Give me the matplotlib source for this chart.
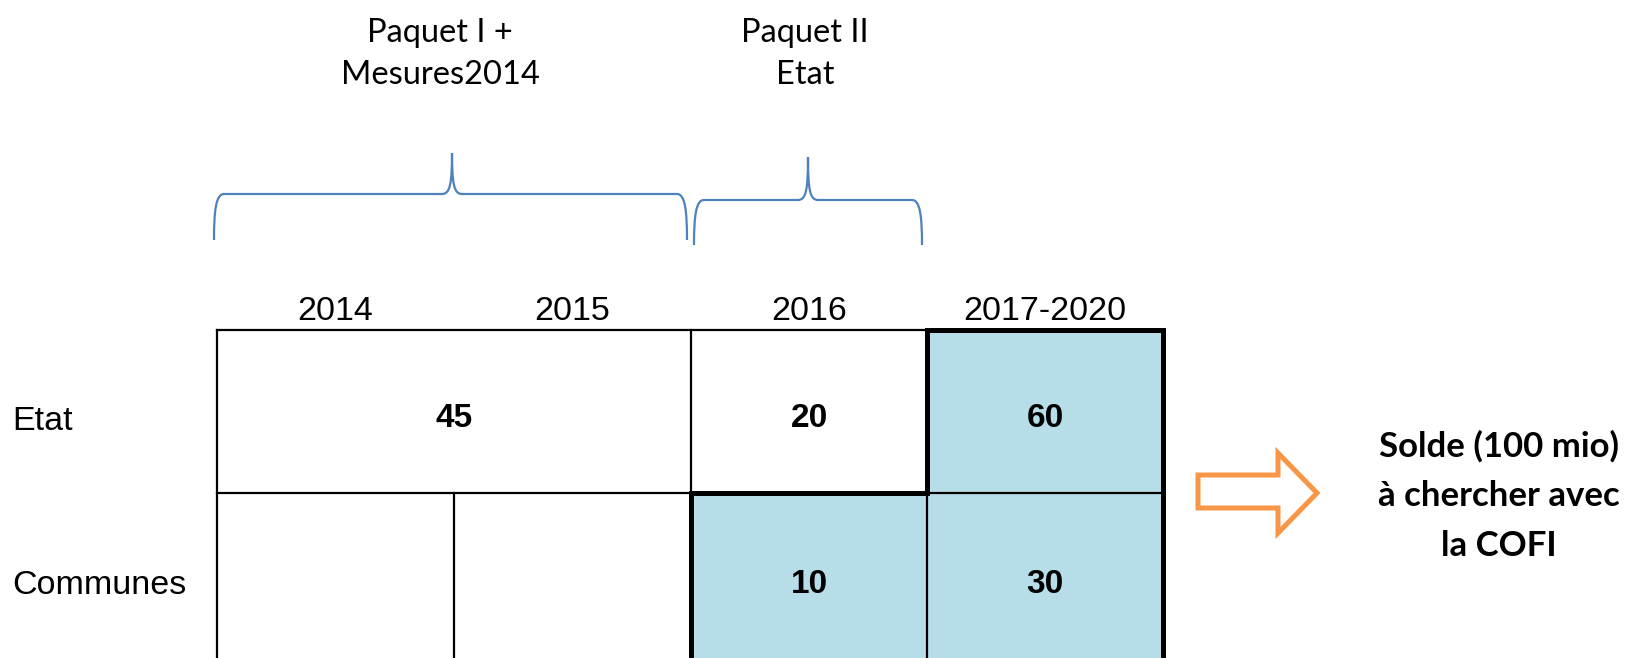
import matplotlib.pyplot as plt
from matplotlib.patches import Rectangle, Polygon, PathPatch
from matplotlib.path import Path

# data
rows = ['Etat', 'Communes']
years = ['2014', '2015', '2016', '2017-2020']
etat_vals = ['45', '20', '60']        # 45 covers 2014 + 2015
etat_span = [(0, 2), (2, 3), (3, 4)]
communes_vals = ['', '', '10', '30']
communes_shaded = [False, False, True, True]
etat_shaded = [False, False, True]
packages = ['Paquet I +\nMesures2014', 'Paquet II\nEtat']
solde_text = 'Solde (100 mio)\nà chercher avec\nla COFI'

BLUE_FILL = '#B7DDE8'
BRACE_COL = '#4F81BD'
ORANGE = '#F79646'

W, H = 1625, 658
fig = plt.figure(figsize=(W / 100, H / 100), dpi=100)
ax = fig.add_axes([0, 0, 1, 1])
ax.set_xlim(0, W)
ax.set_ylim(H, 0)
ax.axis('off')

# table geometry (pixels)
x_edges = [217, 454, 691, 927, 1163]
y_top, y_mid, y_bot = 330, 493, 664
thin, thick = 1.6, 3.6
cal = 'Lato'
ari = 'Liberation Sans'


def col_center(a, b):
    return (x_edges[a] + x_edges[b]) / 2


# shaded cells
for (a, b), sh in zip(etat_span, etat_shaded):
    if sh:
        ax.add_patch(Rectangle((x_edges[a], y_top), x_edges[b] - x_edges[a], y_mid - y_top,
                               facecolor=BLUE_FILL, edgecolor='none'))
for i, sh in enumerate(communes_shaded):
    if sh:
        ax.add_patch(Rectangle((x_edges[i], y_mid), x_edges[i + 1] - x_edges[i], y_bot - y_mid,
                               facecolor=BLUE_FILL, edgecolor='none'))

# thin grid lines
k = dict(color='black', lw=thin, solid_capstyle='projecting')
ax.plot([x_edges[0], x_edges[3]], [y_top, y_top], **k)
ax.plot([x_edges[0], x_edges[0]], [y_top, y_bot], **k)
ax.plot([x_edges[0], x_edges[4]], [y_mid, y_mid], **k)
ax.plot([x_edges[1], x_edges[1]], [y_mid, y_bot], **k)
ax.plot([x_edges[2], x_edges[2]], [y_top, y_mid], **k)
ax.plot([x_edges[3], x_edges[3]], [y_mid, y_bot], **k)

# thick outline around shaded block
ox = [x_edges[3], x_edges[4], x_edges[4], x_edges[2], x_edges[2], x_edges[3], x_edges[3]]
oy = [y_top, y_top, y_bot, y_bot, y_mid, y_mid, y_top]
ax.plot(ox, oy, color='black', lw=thick, solid_joinstyle='miter')

# cell values
for (a, b), v in zip(etat_span, etat_vals):
    ax.text(col_center(a, b), (y_top + y_mid) / 2 + 7, v, ha='center', va='center',
            fontsize=24, fontweight='bold', family=ari)
for i, v in enumerate(communes_vals):
    if v:
        ax.text(col_center(i, i + 1), (y_mid + y_bot) / 2 + 6, v, ha='center', va='center',
                fontsize=24, fontweight='bold', family=ari)

# column headers and row labels
for i, y in enumerate(years):
    ax.text(col_center(i, i + 1), 311, y, ha='center', va='center', fontsize=24.5, family=ari)
ax.text(12, 421, rows[0], ha='left', va='center', fontsize=24.5, family=ari)
ax.text(12, 585, rows[1], ha='left', va='center', fontsize=24.5, family=ari)


# braces
def brace(x0, x1, xm, yb, yh, yt):
    r = 10
    verts = [(x0, yb),
             (x0, yh + 0.35 * (yb - yh)), (x0 + 2, yh), (x0 + r, yh),
             (xm - r, yh),
             (xm - 2, yh), (xm, yh - 10), (xm, yt),
             (xm, yh - 10), (xm + 2, yh), (xm + r, yh),
             (x1 - r, yh),
             (x1 - 2, yh), (x1, yh + 0.35 * (yb - yh)), (x1, yb)]
    codes = [Path.MOVETO, Path.CURVE4, Path.CURVE4, Path.CURVE4, Path.LINETO,
             Path.CURVE4, Path.CURVE4, Path.CURVE4, Path.CURVE4, Path.CURVE4, Path.CURVE4,
             Path.LINETO, Path.CURVE4, Path.CURVE4, Path.CURVE4]
    ax.add_patch(PathPatch(Path(verts, codes), facecolor='none', edgecolor=BRACE_COL, lw=1.6))


brace(214, 687, 452, 240, 194, 153)
brace(694, 922, 808, 245, 200, 157)

# package labels
ax.text(440, 54, packages[0], ha='center', va='center', fontsize=23.5, family=cal,
        linespacing=1.5)
ax.text(805, 54, packages[1], ha='center', va='center', fontsize=23.5, family=cal,
        linespacing=1.5)

# arrow
arrow = [(1198, 475), (1278, 475), (1278, 453), (1317, 493), (1278, 533), (1278, 508), (1198, 508)]
ax.add_patch(Polygon(arrow, closed=True, facecolor='white', edgecolor=ORANGE, lw=3.6,
                     joinstyle='miter'))

ax.text(1499, 496, solde_text, ha='center', va='center', fontsize=25, fontweight='bold',
        family=cal, linespacing=1.68)

fig.savefig('out.png', dpi=100)
